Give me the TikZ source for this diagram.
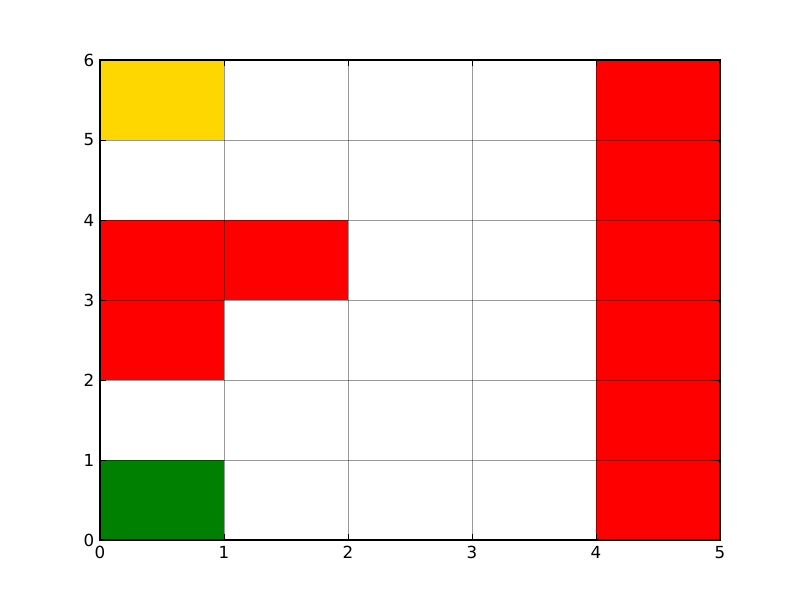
\documentclass[tikz,border=0pt]{standalone}
\usepackage{fontspec}
\setmainfont{DejaVu Sans}
\definecolor{mplgold}{HTML}{FFD700}
\definecolor{mplred}{HTML}{FF0000}
\definecolor{mplgreen}{HTML}{008000}
\begin{document}
\begin{tikzpicture}[x=0.72pt,y=0.72pt,
  cell/.style={draw=none},
  gridline/.style={black,opacity=0.4,line width=0.5pt},
  tick/.style={black,line width=0.5pt},
  frame/.style={black,line width=0.75pt},
  xlab/.style={anchor=north,inner sep=0pt,font=\fontsize{12}{14}\selectfont},
  ylab/.style={anchor=east,inner sep=0pt,font=\fontsize{12}{14}\selectfont}]
\useasboundingbox (0,0) rectangle (800,600);
\fill[white] (0,0) rectangle (800,600);
\begin{scope}[shift={(100,60)},x=89.28pt,y=57.6pt]
  % cells
  \fill[mplgold] (0,5) rectangle (1,6);
  \fill[mplred] (0,3) rectangle (2,4);
  \fill[mplred] (0,2) rectangle (1,3);
  \fill[mplgreen] (0,0) rectangle (1,1);
  \fill[mplred] (4,0) rectangle (5,6);
  % grid
  \foreach \i in {1,2,3,4} \draw[gridline] (\i,0) -- (\i,6);
  \foreach \j in {1,2,3,4,5} \draw[gridline] (0,\j) -- (5,\j);
  % ticks
  \foreach \i in {0,...,5} {
    \draw[tick] (\i,0) -- ++(0,4pt);
    \draw[tick] (\i,6) -- ++(0,-4pt);
    \node[xlab] (xl\i) at ([yshift=-4.5pt]\i,0) {\i};
  }
  \foreach \j in {0,...,6} {
    \draw[tick] (0,\j) -- ++(4pt,0);
    \draw[tick] (5,\j) -- ++(-4pt,0);
    \node[ylab] (yl\j) at ([xshift=-4pt]0,\j) {\j};
  }
  \draw[frame] (0,0) rectangle (5,6);
\end{scope}
\end{tikzpicture}
\end{document}
